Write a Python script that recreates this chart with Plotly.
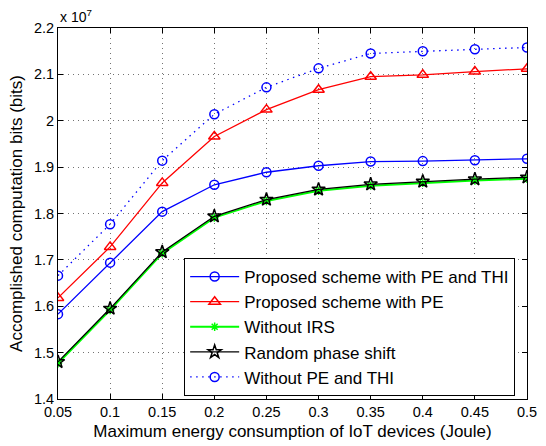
import plotly.graph_objects as go

energy = [0.05, 0.10, 0.15, 0.20, 0.25, 0.30, 0.35, 0.40, 0.45, 0.50]
pe_thi = [1.583, 1.694, 1.804, 1.862, 1.889, 1.903, 1.912, 1.913, 1.915, 1.918]
pe_only = [1.618, 1.728, 1.866, 1.966, 2.024, 2.067, 2.095, 2.099, 2.106, 2.112]
no_irs = [1.477, 1.592, 1.714, 1.791, 1.827, 1.849, 1.860, 1.866, 1.871, 1.875]
random_ps = [1.480, 1.595, 1.717, 1.794, 1.830, 1.852, 1.863, 1.869, 1.874, 1.878]
no_pe_thi = [1.666, 1.777, 1.914, 2.014, 2.072, 2.113, 2.145, 2.150, 2.154, 2.158]

names = ["Proposed scheme with PE and THI", "Proposed scheme with PE",
         "Without IRS", "Random phase shift", "Without PE and THI"]

x_ticks = [0.05, 0.1, 0.15, 0.2, 0.25, 0.3, 0.35, 0.4, 0.45, 0.5]
x_ticktext = ["0.05", "0.1", "0.15", "0.2", "0.25", "0.3", "0.35", "0.4", "0.45", "0.5"]
y_ticks = [1.4, 1.5, 1.6, 1.7, 1.8, 1.9, 2.0, 2.1, 2.2]
y_ticktext = ["1.4", "1.5", "1.6", "1.7", "1.8", "1.9", "2", "2.1", "2.2"]

FONT = "Liberation Sans, Arial, Helvetica, sans-serif"

fig = go.Figure()
fig.add_trace(go.Scatter(x=energy, y=pe_thi, name=names[0], mode="lines+markers",
                         line=dict(color="#0000ff", width=1.3),
                         marker=dict(symbol="circle-open", size=9, color="#0000ff", line=dict(width=1.5))))
fig.add_trace(go.Scatter(x=energy, y=pe_only, name=names[1], mode="lines+markers",
                         line=dict(color="#ff0000", width=1.3),
                         marker=dict(symbol="triangle-up-open", size=10, color="#ff0000", line=dict(width=1.5))))
fig.add_trace(go.Scatter(x=energy, y=no_irs, name=names[2], mode="lines+markers",
                         line=dict(color="#00ff00", width=2),
                         marker=dict(symbol="asterisk-open", size=7, color="#00ff00", line=dict(width=1.5, color="#00ff00"))))
fig.add_trace(go.Scatter(x=energy, y=random_ps, name=names[3], mode="lines+markers",
                         line=dict(color="#000000", width=1.3),
                         marker=dict(symbol="star-open", size=10, color="#000000", line=dict(width=1.5))))
fig.add_trace(go.Scatter(x=energy, y=no_pe_thi, name=names[4], mode="lines+markers",
                         line=dict(color="#0000ff", width=1.3, dash="1.5px,4.5px"),
                         marker=dict(symbol="circle-open", size=9, color="#0000ff", line=dict(width=1.5))))

axis_common = dict(showline=True, mirror="ticks", linecolor="black", linewidth=1,
                   ticks="inside", ticklen=5, tickcolor="black",
                   showgrid=True, gridcolor="rgba(0,0,0,0.55)", griddash="1px,4px", gridwidth=1,
                   zeroline=False, ticklabeloverflow="allow",
                   tickfont=dict(family=FONT, size=14.5, color="black"))

fig.update_xaxes(range=[0.05, 0.5], tickvals=x_ticks, ticktext=x_ticktext,
                 title=dict(text="Maximum energy consumption of IoT devices (Joule)",
                            font=dict(family=FONT, size=17, color="black"), standoff=5),
                 **axis_common)
fig.update_yaxes(range=[1.4, 2.2], tickvals=y_ticks, ticktext=y_ticktext,
                 title=dict(text="Accomplished computation bits (bits)",
                            font=dict(family=FONT, size=17, color="black"), standoff=6),
                 **axis_common)

fig.add_annotation(text="x 10<sup>7</sup>", xref="paper", yref="paper", x=0.0, y=1.0,
                   xanchor="left", yanchor="bottom", showarrow=False, yshift=1,
                   font=dict(family=FONT, size=14, color="black"))

fig.update_layout(
    width=546, height=446,
    margin=dict(l=58, r=9, t=28, b=41),
    paper_bgcolor="white", plot_bgcolor="white",
    showlegend=True,
    legend=dict(x=0.269, y=0.38, xanchor="left", yanchor="top",
                bgcolor="white", bordercolor="black", borderwidth=1,
                font=dict(family=FONT, size=17, color="black"),
                tracegroupgap=0, itemwidth=49),
)

fig.write_html("out.html", config={"displayModeBar": False},
               post_script="document.body.style.margin='0';document.body.style.padding='0';document.body.style.overflow='hidden';")
